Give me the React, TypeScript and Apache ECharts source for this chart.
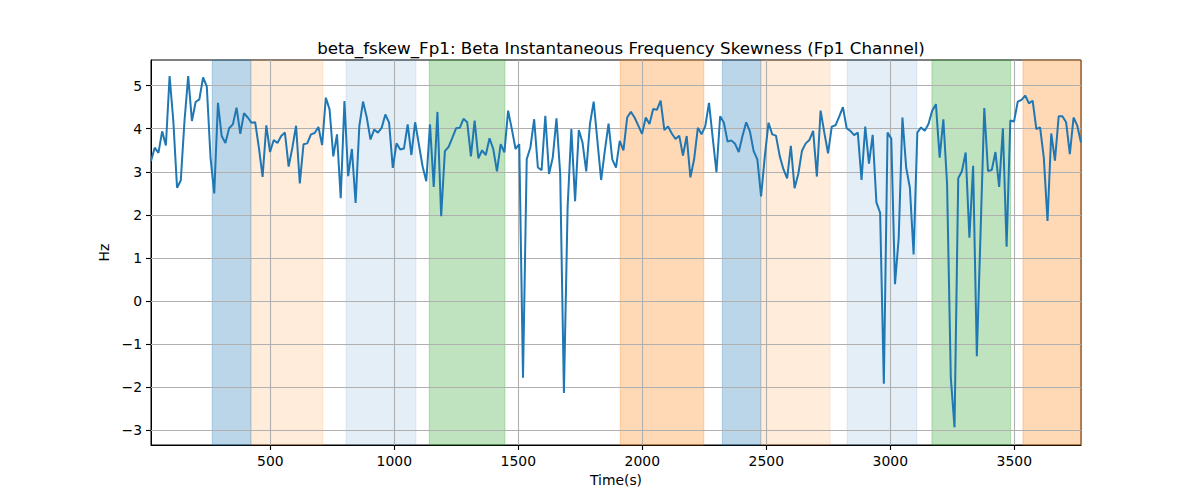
import { useEffect, useRef } from 'react'
import * as echarts from 'echarts'

const T0 = 19
const STEP = 15
const T_END = 3769

const values = [
  3.25, 3.56, 3.44, 3.94, 3.61, 5.22, 4.18, 2.63, 2.8, 4.18,
  5.22, 4.18, 4.62, 4.68, 5.19, 4.98, 3.33, 2.5, 4.6, 3.83,
  3.67, 4.01, 4.1, 4.49, 3.88, 4.36, 4.26, 4.14, 4.15, 3.56,
  2.88, 4.08, 3.46, 3.74, 3.67, 3.83, 3.91, 3.12, 3.56, 4.07,
  2.73, 3.64, 3.66, 3.87, 3.9, 4.04, 3.62, 4.72, 4.45, 3.36,
  3.87, 2.39, 4.64, 2.9, 3.53, 2.28, 4.06, 4.63, 4.26, 3.75,
  3.98, 3.91, 4.02, 4.33, 4.14, 3.09, 3.66, 3.52, 3.54, 4.1,
  3.39, 4.15, 3.64, 3.13, 2.78, 4.1, 2.65, 4.39, 1.97, 3.48,
  3.58, 3.79, 4.01, 4.02, 4.23, 4.15, 3.36, 4.19, 3.31, 3.5,
  3.39, 3.78, 3.53, 3.01, 3.64, 3.45, 4.42, 3.99, 3.53, 3.64,
  -1.78, 3.29, 3.57, 4.22, 3.1, 3.04, 4.3, 2.95, 3.33, 4.24,
  2.95, -2.13, 2.2, 3.99, 2.32, 3.97, 3.68, 3.01, 4.11, 4.63,
  3.72, 2.81, 3.49, 4.12, 3.29, 3.1, 3.72, 3.5, 4.26, 4.39,
  4.26, 4.07, 3.88, 4.26, 4.11, 4.46, 4.44, 4.65, 3.97, 4.05,
  3.89, 3.76, 3.84, 3.38, 3.83, 2.87, 3.29, 4.02, 3.87, 4.06,
  4.6, 3.79, 2.99, 4.29, 4.14, 3.7, 3.73, 3.65, 3.46, 3.83,
  4.15, 3.94, 3.48, 3.29, 2.43, 3.36, 4.14, 3.87, 3.84, 3.37,
  3.06, 2.85, 3.6, 2.62, 2.95, 3.49, 3.66, 3.74, 3.95, 2.89,
  4.42, 3.91, 3.43, 4.05, 4.08, 4.28, 4.5, 4.01, 3.95, 3.85,
  3.91, 2.81, 4.05, 3.19, 3.86, 2.29, 2.05, -1.92, 3.91, 3.77,
  0.39, 1.47, 4.26, 3.1, 2.63, 1.08, 3.91, 4.03, 3.95, 4.11,
  4.42, 4.57, 3.33, 4.22, 2.71, -1.78, -2.93, 2.85, 3.02, 3.45,
  1.47, 3.14, -1.28, 1.6, 4.48, 3.02, 3.04, 3.46, 2.65, 4.01,
  1.26, 4.19, 4.17, 4.63, 4.67, 4.77, 4.59, 4.65, 3.99, 4.03,
  3.33, 1.86, 3.89, 3.26, 4.29, 4.29, 4.15, 3.41, 4.26, 4.07,
  3.68
]

const xTicks = [500, 1000, 1500, 2000, 2500, 3000, 3500]
const yTicks = [-3, -2, -1, 0, 1, 2, 3, 4, 5]

// shaded segments (seconds)
const bandStart = [266, 422, 806, 1141, 1911, 2323, 2478, 2826, 3168, 3535]
const bandEnd = [422, 712, 1087, 1446, 2248, 2478, 2757, 3107, 3485, 3769]
const bandColor = [
  'rgba(31,119,180,0.3)',
  'rgba(255,127,14,0.15)',
  'rgba(31,119,180,0.12)',
  'rgba(44,160,44,0.3)',
  'rgba(255,127,14,0.3)',
  'rgba(31,119,180,0.3)',
  'rgba(255,127,14,0.15)',
  'rgba(31,119,180,0.12)',
  'rgba(44,160,44,0.3)',
  'rgba(255,127,14,0.3)'
]

const FONT = 'DejaVu Sans'
const minus = (v: number) => (v < 0 ? '\u2212' + Math.abs(v) : String(v))

export default function App() {
  const ref = useRef<HTMLDivElement | null>(null)

  useEffect(() => {
    if (!ref.current) return
    const chart = echarts.init(ref.current, undefined, { renderer: 'svg' })
    const points = values.map((v, i) => [T0 + i * STEP, v])

    chart.setOption({
      animation: false,
      backgroundColor: '#fff',
      title: {
        text: 'beta_fskew_Fp1: Beta Instantaneous Frequency Skewness (Fp1 Channel)',
        left: 616,
        top: 34,
        textAlign: 'center',
        textStyle: { fontFamily: FONT, fontSize: 16.7, fontWeight: 'normal', color: '#000' }
      },
      grid: {
        left: 151, right: 119, top: 60, bottom: 55,
        show: true, borderColor: '#000', borderWidth: 1, backgroundColor: 'transparent'
      },
      xAxis: {
        type: 'value',
        min: T0,
        max: T_END,
        name: 'Time(s)',
        nameLocation: 'middle',
        nameGap: 28,
        nameTextStyle: { fontFamily: FONT, fontSize: 13.9, color: '#000' },
        axisLine: { show: true, onZero: false, lineStyle: { color: '#000', width: 1 } },
        axisTick: { show: true, length: 5, customValues: xTicks, lineStyle: { color: '#000', width: 1.1 } },
        axisLabel: {
          customValues: xTicks, margin: 9, fontFamily: FONT, fontSize: 13.9, color: '#000',
          formatter: (v: number) => String(v)
        },
        splitLine: { show: false }
      },
      yAxis: {
        type: 'value',
        min: -3.34,
        max: 5.595,
        name: 'Hz',
        nameLocation: 'middle',
        nameGap: 33,
        nameTextStyle: { fontFamily: FONT, fontSize: 13.9, color: '#000' },
        axisLine: { show: true, onZero: false, lineStyle: { color: '#000', width: 1 } },
        axisTick: { show: true, length: 5, customValues: yTicks, lineStyle: { color: '#000', width: 1.1 } },
        axisLabel: { customValues: yTicks, margin: 9, fontFamily: FONT, fontSize: 13.9, color: '#000', formatter: minus },
        splitLine: { show: false }
      },
      series: [
        {
          type: 'line',
          data: [],
          silent: true,
          markArea: {
            silent: true,
            z: 1,
            data: bandStart.map((s, i) => [
              { xAxis: s, itemStyle: { color: bandColor[i], borderColor: bandColor[i], borderWidth: 1 } },
              { xAxis: bandEnd[i] }
            ])
          }
        },
        {
          type: 'line',
          data: [],
          silent: true,
          markLine: {
            silent: true,
            z: 2,
            symbol: ['none', 'none'],
            label: { show: false },
            lineStyle: { color: '#b0b0b0', width: 1.1, type: 'solid' },
            emphasis: { disabled: true },
            data: [
              ...yTicks.map((v) => ({ yAxis: v })),
              ...xTicks.map((v) => ({ xAxis: v }))
            ]
          }
        },
        {
          type: 'line',
          z: 3,
          data: points,
          showSymbol: false,
          lineStyle: { color: '#1f77b4', width: 2 },
          itemStyle: { color: '#1f77b4' }
        }
      ]
    })

    return () => chart.dispose()
  }, [])

  return (
    <div
      ref={ref}
      style={{ position: 'fixed', left: 0, top: 0, width: 1200, height: 500, background: '#fff' }}
    />
  )
}
